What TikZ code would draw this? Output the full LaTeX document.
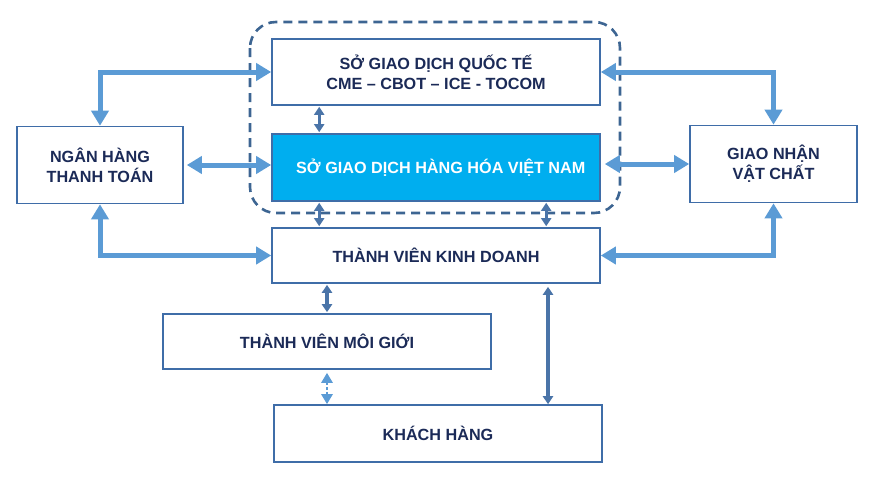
\documentclass[tikz,border=0pt]{standalone}
\usepackage{fontspec}
\setmainfont{Liberation Sans}
\usepackage{tikz}
\usetikzlibrary{arrows.meta,positioning,calc}
\usepackage{xcolor}

\definecolor{boxline}{HTML}{3F6DA8}
\definecolor{navytext}{HTML}{1B2A57}
\definecolor{vnfill}{HTML}{00AEEF}
\definecolor{fatblue}{HTML}{5B9BD5}
\definecolor{thinblue}{HTML}{4A74A8}
\definecolor{frameblue}{HTML}{3D6592}

\tikzset{
    box/.style={draw=boxline,line width=1.6pt,fill=white,text=navytext,
        font=\bfseries\fontsize{16.2}{20}\selectfont,align=center,inner sep=0pt},
    vnbox/.style={box,fill=vnfill,text=white},
    fatlink/.style={draw=fatblue,line width=5pt,
        {Triangle[width=17pt,length=15pt]}-{Triangle[width=17pt,length=15pt]}},
    thinlink/.style={draw=thinblue,line width=3.2pt,
        {Triangle[width=10pt,length=8pt]}-{Triangle[width=10pt,length=8pt]}},
    dotlink/.style={draw=fatblue,line width=2.8pt,dotted,
        {Triangle[width=11pt,length=10pt]}-{Triangle[width=11pt,length=10pt]}}
}

\begin{document}
\begin{tikzpicture}[x=1pt,y=-1pt]
    \useasboundingbox (0,0) rectangle (876,482);

    % Exchanges inside the dashed frame
    \draw[frameblue,line width=2.6pt,dash pattern=on 9pt off 6pt,rounded corners=26pt]
        (250,22) rectangle (620,213);
    \node[box,minimum width=328pt,minimum height=66pt] (intl) at (436,72) {
        SỞ GIAO DỊCH QUỐC TẾ\\
        CME – CBOT – ICE - TOCOM
    };
    \node[vnbox,minimum width=328pt,minimum height=67pt] (vn) at (436,167.5) {
        \hspace{14pt}SỞ GIAO DỊCH HÀNG HÓA VIỆT NAM
    };

    % Side partners
    \node[box,minimum width=166pt,minimum height=77pt] (bank) at (100,165) {
        NGÂN HÀNG\\
        THANH TOÁN
    };
    \node[box,minimum width=167pt,minimum height=77pt] (deliv) at (773.5,164) {
        GIAO NHẬN\\
        VẬT CHẤT
    };

    % Members and clients
    \node[box,minimum width=328pt,minimum height=55pt] (member) at (436,255.5) {THÀNH VIÊN KINH DOANH};
    \node[box,minimum width=328pt,minimum height=55pt] (broker) at (327,341.5) {THÀNH VIÊN MÔI GIỚI};
    \node[box,minimum width=328pt,minimum height=57pt] (client) at (438,433.5) {KHÁCH HÀNG};

    % Wide arrows
    \draw[fatlink] (bank.north) |- (intl.west);
    \draw[fatlink,shorten <=3pt] (bank.east) -- (bank.east -| vn.west);
    \draw[fatlink] (bank.south) |- (member.west);
    \draw[fatlink] (intl.east) -| (deliv.north);
    \draw[fatlink,shorten <=4pt] (vn.east |- deliv.west) -- (deliv.west);
    \draw[fatlink] (member.east) -| (deliv.south);

    % Narrow arrows
    \draw[thinlink,shorten <=1pt,shorten >=1pt] ([xshift=48pt]intl.south west) -- ([xshift=48pt]vn.north west);
    \draw[thinlink,shorten <=1pt,shorten >=1pt] ([xshift=48pt]vn.south west) -- ([xshift=48pt]member.north west);
    \draw[thinlink,shorten <=1pt,shorten >=1pt] ([xshift=275pt]vn.south west) -- ([xshift=275pt]member.north west);
    \draw[thinlink,shorten <=1pt,shorten >=1pt] (broker.north |- member.south) -- (broker.north);
    \draw[thinlink,shorten <=3pt] ([xshift=112pt]member.south) -- ([xshift=112pt]member.south |- client.north);
    \draw[dotlink,shorten <=3pt] (broker.south) -- (broker.south |- client.north);
\end{tikzpicture}
\end{document}
